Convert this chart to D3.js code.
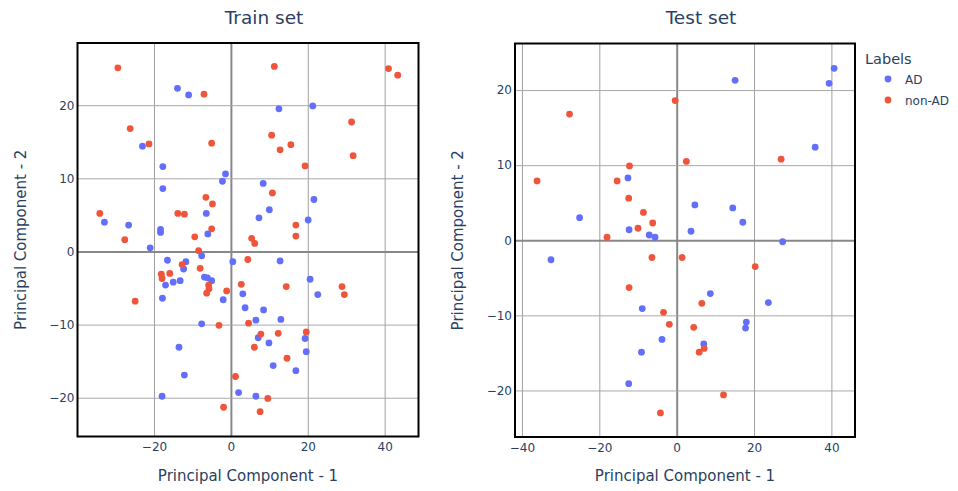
<!DOCTYPE html>
<html><head><meta charset="utf-8">
<script src="https://cdn.jsdelivr.net/npm/d3@7"></script>
<style>body{margin:0;background:#fff}svg{display:block}text{font-family:"DejaVu Sans",Verdana,sans-serif}</style>
</head><body><svg id="c" width="958" height="491"></svg>
<script>
const labels = ["AD", "non-AD"];
const colors = ["#636efa", "#EF553B"];
const xTicks = [-40, -20, 0, 20, 40];
const trainYTicks = [-20, -10, 0, 10, 20];
const testYTicks = [-20, -10, 0, 10, 20];

const trainAD = [[-13.9,22.3],[-11.0,21.4],[-23.0,14.4],[-17.7,11.6],[-1.4,10.6],[-2.2,9.6],[-17.7,8.6],[-6.4,5.2],[-32.9,4.0],[-26.6,3.6],[-18.3,3.0],[-18.3,2.6],[-6.0,2.4],[12.5,19.5],[21.3,19.9],[8.4,9.3],[21.6,7.1],[10.0,5.7],[7.3,4.6],[20.1,4.3],[-21.0,0.5],[-7.6,-0.6],[0.5,-1.4],[-16.5,-1.2],[-11.7,-1.4],[-12.3,-2.4],[-17.0,-4.6],[-15.0,-4.2],[-13.2,-4.0],[-6.9,-3.5],[-6.1,-3.6],[-5.0,-4.0],[3.1,-5.8],[-17.8,-6.4],[-2.0,-6.6],[3.7,-7.7],[-7.6,-9.9],[-13.5,-13.1],[-12.1,-16.9],[2.0,-19.3],[-17.9,-19.8],[12.8,-1.3],[20.6,-3.8],[22.6,-5.9],[8.5,-8.0],[6.5,-9.4],[13.0,-9.3],[7.1,-11.8],[9.9,-12.5],[19.3,-11.9],[19.6,-13.7],[11.0,-15.6],[16.9,-16.3],[6.5,-19.8]];
const trainNonAD = [[-29.4,25.1],[-7.0,21.5],[-26.2,16.8],[-21.3,14.7],[-5.0,14.8],[-6.5,7.4],[-4.8,6.5],[-34.1,5.2],[-13.8,5.2],[-12.1,5.1],[-5.0,3.1],[-9.4,2.0],[-27.6,1.6],[11.3,25.3],[41.0,25.0],[43.4,24.1],[31.4,17.7],[10.6,15.9],[15.6,14.6],[12.8,13.9],[31.8,13.1],[19.3,11.7],[10.8,8.0],[16.9,3.6],[16.9,2.1],[5.4,1.8],[6.2,1.1],[-8.4,0.1],[4.4,-1.1],[-12.7,-1.8],[-8.0,-2.3],[-18.1,-3.1],[-17.9,-3.7],[-15.9,-3.0],[-5.8,-4.6],[-5.7,-5.1],[-6.3,-5.7],[-1.1,-5.4],[2.7,-4.5],[-24.9,-6.8],[4.6,-9.8],[-3.1,-10.1],[1.2,-17.1],[-1.9,-21.3],[14.4,-4.8],[28.9,-4.8],[29.5,-5.9],[19.6,-11.0],[7.8,-11.3],[12.3,-11.2],[6.1,-13.1],[14.6,-14.6],[9.6,-20.1],[7.6,-21.9]];
const testAD = [[-25.1,3.0],[-12.6,8.3],[-12.3,1.4],[-7.1,0.7],[-5.6,0.4],[15.1,21.3],[40.7,22.9],[39.4,20.9],[35.8,12.4],[4.7,4.7],[14.5,4.3],[17.1,2.4],[3.7,1.2],[27.4,-0.2],[-32.5,-2.6],[-8.9,-9.1],[-3.8,-13.2],[-9.1,-14.9],[-12.4,-19.1],[8.7,-7.1],[23.7,-8.3],[18.0,-10.9],[17.8,-11.7],[7.0,-13.8]];
const testNonAD = [[-27.7,16.8],[-36.1,7.9],[-12.2,9.9],[-15.4,7.9],[-12.4,5.6],[-8.6,3.7],[-6.2,2.3],[-10.0,1.6],[-18.0,0.4],[-0.4,18.6],[27.0,10.8],[2.5,10.5],[-6.4,-2.3],[-12.3,-6.3],[-3.4,-9.6],[-1.9,-11.2],[-4.2,-23.0],[1.4,-2.3],[20.3,-3.5],[6.5,-8.4],[4.4,-11.6],[7.1,-14.4],[5.8,-14.9],[12.1,-20.6]];

const svg = d3.select("#c");
const fontColor = "#2a3f5f";
const fmt = d => d < 0 ? "\u2212" + Math.abs(d) : String(d);

function panel(opts){
  const {x0,x1,y0,y1,xDom,yDom,title,titleX,yTicks,series} = opts;
  const x = d3.scaleLinear().domain(xDom).range([x0,x1]);
  const y = d3.scaleLinear().domain(yDom).range([y1,y0]);
  const g = svg.append("g");
  const gx = g.append("g").attr("transform",`translate(0,${y1})`)
    .call(d3.axisBottom(x).tickValues(xTicks.filter(t=>t>xDom[0]&&t<xDom[1])).tickSize(-(y1-y0)).tickFormat(fmt).tickPadding(6));
  gx.select(".domain").remove();
  gx.selectAll("line").attr("stroke",d=>d===0?"#888":"#a0a0a0").attr("stroke-width",d=>d===0?2:1);
  gx.selectAll("text").attr("fill",fontColor).style("font-size","12px");
  const gy = g.append("g").attr("transform",`translate(${x0},0)`)
    .call(d3.axisLeft(y).tickValues(yTicks).tickSize(-(x1-x0)).tickFormat(fmt).tickPadding(3));
  gy.select(".domain").remove();
  gy.selectAll("line").attr("stroke",d=>d===0?"#888":"#a8a8a8").attr("stroke-width",d=>d===0?2:1);
  gy.selectAll("text").attr("fill",fontColor).style("font-size","12px");
  series.forEach((s,i)=>{
    g.append("g").selectAll("circle").data(s).join("circle")
      .attr("cx",d=>x(d[0])).attr("cy",d=>y(d[1])).attr("r",3.4).attr("fill",colors[i]);
  });
  g.append("rect").attr("x",x0).attr("y",y0).attr("width",x1-x0).attr("height",y1-y0)
    .attr("fill","none").attr("stroke","#000").attr("stroke-width",2);
  g.append("text").attr("x",titleX).attr("y",24).attr("text-anchor","middle")
    .attr("fill",fontColor).style("font-size","18.5px").text(title);
  g.append("text").attr("x",(x0+x1)/2).attr("y",481).attr("text-anchor","middle")
    .attr("fill",fontColor).style("font-size","15px").text("Principal Component - 1");
  g.append("text").attr("transform",`translate(${x0-52},${(y0+y1)/2}) rotate(-90)`).attr("text-anchor","middle")
    .attr("fill",fontColor).style("font-size","15px").text("Principal Component - 2");
}

panel({x0:77.5,x1:418.5,y0:43,y1:436.5,xDom:[-39.9,48.8],yDom:[-25.3,28.5],title:"Train set",titleX:264,yTicks:trainYTicks,series:[trainAD,trainNonAD]});
panel({x0:515,x1:855,y0:43.5,y1:437,xDom:[-41.8,46.1],yDom:[-26.2,26.2],title:"Test set",titleX:701,yTicks:testYTicks,series:[testAD,testNonAD]});

const lg = svg.append("g");
lg.append("text").attr("x",865).attr("y",64).attr("fill",fontColor).style("font-size","14.5px").text("Labels");
labels.forEach((l,i)=>{
  lg.append("circle").attr("cx",888).attr("cy",79+i*21).attr("r",3.4).attr("fill",colors[i]);
  lg.append("text").attr("x",905).attr("y",83.5+i*21).attr("fill",fontColor).style("font-size","12px").text(l);
});
</script></body></html>
